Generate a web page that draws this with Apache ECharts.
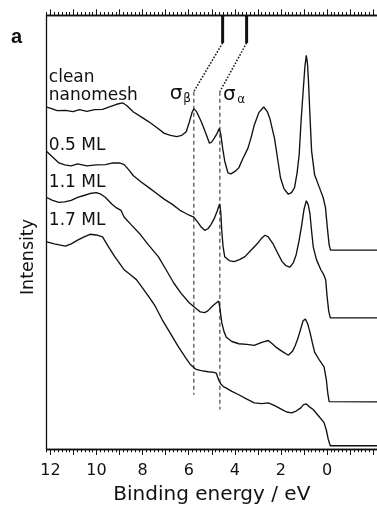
<!DOCTYPE html>
<html>
<head>
<meta charset="utf-8">
<script src="https://cdn.jsdelivr.net/npm/echarts@6/dist/echarts.min.js"></script>
<style>
html, body { margin: 0; padding: 0; background: #fff; }
#chart { width: 377px; height: 510px; }
</style>
</head>
<body>
<div id="chart"></div>
<script>
// spectra: [binding energy / eV, intensity (arb.)]
const clean = [[12.16, 346.7], [11.95, 345], [11.71, 343], [11.35, 343.3], [11.02, 342], [10.74, 344], [10.42, 342.3], [10.09, 344], [9.74, 344.3], [9.41, 347], [9.13, 349.5], [8.87, 351], [8.68, 348], [8.40, 341.7], [8.08, 337], [7.73, 331.7], [7.39, 326], [7.06, 320], [6.79, 318], [6.52, 316.7], [6.30, 318], [6.11, 321.7], [5.98, 331], [5.86, 341], [5.78, 345], [5.66, 342], [5.46, 332], [5.29, 322], [5.10, 310], [5.01, 311], [4.90, 315], [4.77, 320], [4.68, 325], [4.61, 319], [4.53, 305], [4.44, 292], [4.30, 280], [4.17, 279], [3.96, 282], [3.83, 285], [3.64, 295], [3.43, 305], [3.28, 317], [3.16, 328.3], [2.96, 341], [2.75, 346.7], [2.59, 342], [2.48, 335], [2.28, 315], [2.15, 295], [2.02, 275], [1.87, 264], [1.68, 258.3], [1.54, 260], [1.41, 265], [1.30, 280], [1.21, 298.3], [1.12, 335], [1.03, 365], [0.96, 388], [0.90, 399], [0.85, 391], [0.81, 375], [0.74, 337], [0.67, 302], [0.54, 278], [0.33, 265], [0.17, 255], [0.07, 245], [-0.01, 225], [-0.09, 207], [-0.15, 201.7], [-2.17, 201.7]]
const ml05 = [[12.16, 301.7], [11.91, 296], [11.63, 290], [11.38, 288], [11.10, 287], [10.82, 289], [10.42, 287], [10.01, 288], [9.61, 288.3], [9.29, 290], [9.00, 290], [8.80, 288.3], [8.60, 283], [8.40, 277], [8.08, 271], [7.73, 265], [7.39, 259], [7.07, 253.3], [6.71, 248], [6.38, 242], [6.14, 239], [5.98, 237], [5.78, 235], [5.58, 229], [5.46, 225], [5.31, 221.7], [5.17, 223.3], [5.05, 227], [4.90, 233.3], [4.77, 241], [4.66, 248.3], [4.61, 240], [4.57, 222], [4.51, 205], [4.44, 195], [4.25, 191], [4.03, 190], [3.80, 192], [3.56, 195], [3.28, 202], [3.02, 208.3], [2.83, 214], [2.69, 216.7], [2.55, 215], [2.35, 208.3], [2.15, 199], [1.95, 190], [1.79, 186], [1.61, 184.3], [1.46, 189], [1.34, 197], [1.21, 211.7], [1.10, 227], [1.00, 243], [0.90, 251.7], [0.82, 248], [0.74, 238.3], [0.68, 223], [0.60, 205], [0.46, 192], [0.27, 181.7], [0.15, 177], [0.06, 171.7], [0.00, 155], [-0.07, 140], [-0.14, 133], [-2.17, 133]]
const ml11 = [[12.16, 255], [11.91, 252], [11.63, 250], [11.38, 250.5], [11.10, 252], [10.82, 255], [10.55, 257], [10.29, 259], [10.01, 260], [9.81, 258.3], [9.61, 255], [9.34, 248.3], [9.17, 245], [8.94, 242], [8.80, 235], [8.48, 227], [8.13, 218.3], [7.75, 207], [7.32, 195], [6.99, 182], [6.65, 168.3], [6.34, 158], [5.98, 148.3], [5.66, 142], [5.50, 139], [5.31, 138.3], [5.17, 140], [4.97, 145], [4.81, 148], [4.70, 150], [4.65, 143], [4.57, 128.3], [4.47, 119], [4.37, 113.3], [4.13, 109], [3.83, 106.7], [3.48, 106], [3.16, 105], [2.83, 108], [2.55, 110], [2.39, 107], [2.22, 103.3], [1.95, 99], [1.68, 95], [1.50, 99], [1.38, 105], [1.27, 111.7], [1.14, 122], [1.04, 130], [0.94, 131.7], [0.84, 127], [0.74, 118.3], [0.64, 108], [0.54, 98.3], [0.33, 90], [0.13, 83.3], [0.03, 70], [-0.03, 57], [-0.09, 48], [-2.17, 47.7]]
const ml17 = [[12.16, 210], [11.83, 208], [11.35, 205.7], [11.10, 208], [10.82, 211.7], [10.54, 215], [10.28, 217.7], [10.01, 217], [9.74, 215], [9.48, 205], [9.21, 195], [8.80, 181.7], [8.53, 176.7], [8.27, 171.7], [8.00, 163], [7.75, 155], [7.46, 145], [7.15, 131], [6.79, 117], [6.46, 104], [6.11, 91.7], [5.94, 86], [5.71, 81], [5.46, 79.5], [5.17, 78.3], [4.90, 77.7], [4.81, 77], [4.70, 70], [4.61, 66], [4.50, 63.3], [4.37, 61.7], [4.13, 58.5], [3.83, 55], [3.52, 51], [3.16, 46.7], [2.83, 46], [2.55, 46.7], [2.27, 44], [1.95, 40], [1.75, 37.5], [1.54, 36.7], [1.34, 38.5], [1.14, 41.7], [1.02, 45], [0.90, 45.7], [0.78, 43], [0.60, 40], [0.42, 35], [0.13, 26.7], [0.03, 19], [-0.05, 10], [-0.14, 3.3], [-2.17, 3.3]]

const curveNames = ['clean', 'nanomesh', '0.5 ML', '1.1 ML', '1.7 ML']
const peakEV = [5.78, 4.65]       // sigma_beta, sigma_alpha
const peakLineEnd = [55, 40]
const bandEV = [4.53, 3.49]       // markers on the top axis
const tickLabels = ['12', '10', '8', '6', '4', '2', '0']

const ink = '#111'
const font = '"DejaVu Sans", sans-serif'

// tick positions in sixths of an eV, left edge to right edge
const sixths = []
for (let k = 73; k >= -13; k--) sixths.push(String(k))

function tickAxis(position, len, major) {
  return {
    type: 'category',
    position: position,
    data: sixths,
    boundaryGap: false,
    axisLine: { show: true, onZero: false, lineStyle: { color: ink, width: 1.3 } },
    axisTick: {
      show: true,
      length: len,
      interval: major ? function(i, v) { return Number(v) % 6 === 0 } : 0,
      lineStyle: { color: ink, width: 1 }
    },
    axisLabel: { show: false },
    splitLine: { show: false }
  }
}

const bottomMajor = tickAxis('bottom', 6, true)
bottomMajor.axisLabel = {
  show: true,
  margin: 14,
  fontSize: 16,
  fontFamily: font,
  color: ink,
  interval: function(i, v) { return tickLabels.indexOf(String(Number(v) / 6)) >= 0 },
  formatter: function(v) { return String(Number(v) / 6) }
}
bottomMajor.name = 'Binding energy / eV'
bottomMajor.nameLocation = 'middle'
bottomMajor.nameGap = 36
bottomMajor.nameTextStyle = { fontSize: 20, fontFamily: font, color: ink }

function spectrum(name, data) {
  return {
    name: name, type: 'line', data: data, symbol: 'none', z: 3,
    lineStyle: { color: ink, width: 1.35 }
  }
}

function guide(data, type, width, color) {
  return {
    type: 'line', data: data, symbol: 'none', z: 2, silent: true,
    lineStyle: { color: color, width: width, type: type }
  }
}

function textPoint(text, coord, size) {
  return {
    value: coord, name: text,
    label: { fontSize: size, color: ink }
  }
}

const chart = echarts.init(document.getElementById('chart'))
chart.setOption({
  animation: false,
  backgroundColor: '#fff',
  grid: { left: 46.6, right: -25.1, top: 15, bottom: 55 },
  xAxis: [
    { type: 'value', min: -13 / 6, max: 73 / 6, inverse: true, show: false },
    tickAxis('bottom', 3.3, false),
    bottomMajor,
    tickAxis('top', 3, false),
    tickAxis('top', 5.7, true)
  ],
  yAxis: {
    type: 'value', min: 0, max: 440,
    axisLine: { show: true, onZero: false, lineStyle: { color: ink, width: 1.3 } },
    axisTick: { show: false },
    axisLabel: { show: false },
    splitLine: { show: false },
    name: 'Intensity',
    nameLocation: 'middle',
    nameGap: 9,
    nameTextStyle: { fontSize: 17.5, fontFamily: font, color: ink, padding: [0, 50, 0, 0] }
  },
  graphic: [{
    type: 'text', left: 11, top: 27,
    style: { text: 'a', font: 'bold 20px "Liberation Sans", sans-serif', fill: ink }
  }],
  series: [
    spectrum('clean nanomesh', clean),
    spectrum('0.5 ML', ml05),
    spectrum('1.1 ML', ml11),
    spectrum('1.7 ML', ml17),
    guide([[bandEV[0], 440], [bandEV[0], 411.7]], 'solid', 3, ink),
    guide([[bandEV[1], 440], [bandEV[1], 411.7]], 'solid', 3, ink),
    guide([[bandEV[0], 411.7], [peakEV[0], 362.3]], 'dotted', 1.6, '#222'),
    guide([[bandEV[1], 411.7], [peakEV[1], 362.3]], 'dotted', 1.6, '#222'),
    guide([[peakEV[0], 362.3], [peakEV[0], peakLineEnd[0]]], [4, 3], 1.2, '#444'),
    guide([[peakEV[1], 362.3], [peakEV[1], peakLineEnd[1]]], [4, 3], 1.2, '#444'),
    {
      type: 'scatter', symbolSize: 0, z: 4, silent: true,
      itemStyle: { opacity: 1 },
      label: { show: true, position: 'right', distance: 0, formatter: '{b}', color: ink, opacity: 1, fontFamily: font, fontSize: 17 },
      data: [
        textPoint(curveNames[0], [12.07, 377], 17),
        textPoint(curveNames[1], [12.07, 358.5], 17),
        textPoint(curveNames[2], [12.07, 307.9], 17),
        textPoint(curveNames[3], [12.07, 270.6], 17),
        textPoint(curveNames[4], [12.07, 231.9], 17),
        textPoint('σ', [6.82, 359.9], 20),
        textPoint('β', [6.24, 355], 12),
        textPoint('σ', [4.51, 359.6], 20),
        textPoint('α', [3.90, 354], 12)
      ]
    }
  ]
})
</script>
</body>
</html>
